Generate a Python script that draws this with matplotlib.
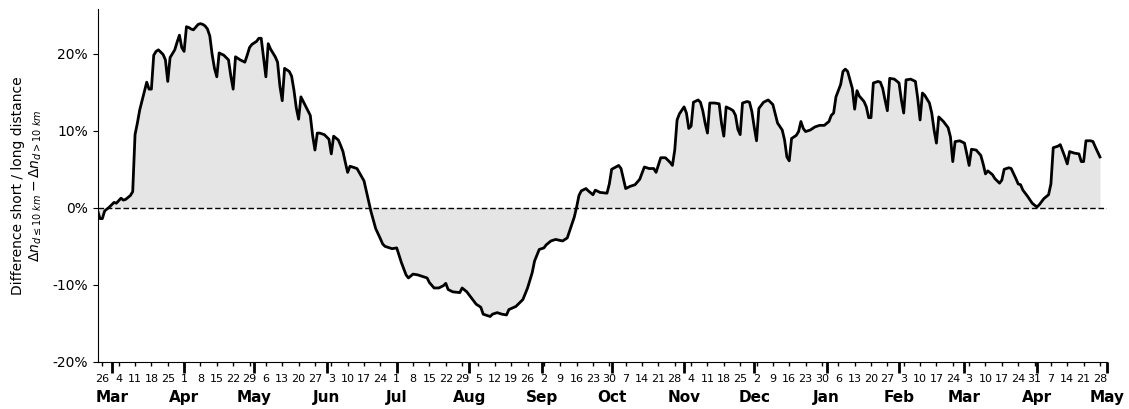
import matplotlib
matplotlib.use("Agg")
import matplotlib.pyplot as plt
import matplotlib.dates as mdates
import matplotlib.ticker as mticker
import pandas as pd
import numpy as np

start_date = "2020-02-24"
end_date = "2021-05-01"

# day offsets from start_date and value (difference in %)
day_offsets = [
    0, 1, 2, 3, 5, 7, 8, 10, 11, 12, 14, 15, 16, 17, 18, 21, 22, 23, 24, 25,
    26, 27, 28, 29, 30, 31, 32, 33, 34, 35, 36, 37, 38, 39, 40, 41, 43, 44, 45, 46,
    47, 48, 49, 50, 51, 52, 54, 56, 57, 58, 59, 61, 63, 64, 65, 66, 68, 69, 70, 71,
    72, 73, 74, 76, 77, 78, 79, 80, 82, 83, 84, 85, 86, 87, 88, 89, 91, 92, 93, 94,
    95, 97, 99, 100, 101, 103, 104, 105, 106, 107, 108, 109, 111, 114, 116, 117, 119, 121, 122, 123,
    124, 126, 128, 130, 132, 133, 135, 137, 141, 142, 144, 146, 148, 149, 150, 152, 155, 156, 158, 160,
    162, 164, 165, 168, 169, 171, 173, 175, 176, 179, 181, 182, 184, 186, 187, 189, 191, 192, 194, 196,
    199, 201, 202, 204, 205, 206, 207, 209, 210, 212, 213, 215, 218, 219, 220, 223, 224, 226, 228, 230,
    232, 234, 236, 238, 239, 241, 243, 245, 246, 247, 248, 249, 251, 252, 253, 254, 255, 257, 258, 259,
    260, 261, 262, 264, 266, 267, 268, 269, 271, 272, 273, 274, 275, 276, 278, 279, 280, 281, 282, 283,
    285, 287, 289, 291, 293, 294, 295, 296, 297, 299, 300, 301, 302, 303, 305, 307, 309, 311, 313, 314,
    315, 316, 318, 319, 320, 321, 323, 324, 325, 326, 328, 329, 330, 331, 332, 334, 335, 336, 337, 338,
    339, 341, 343, 344, 345, 346, 348, 350, 351, 352, 353, 354, 356, 357, 358, 359, 360, 362, 364, 365,
    366, 367, 369, 371, 372, 373, 374, 376, 378, 379, 380, 381, 383, 384, 386, 387, 388, 390, 391, 393,
    394, 395, 396, 398, 400, 402, 403, 405, 407, 408, 409, 411, 412, 414, 415, 416, 418, 420, 421, 422,
    423, 425, 426, 427, 429,
]

diff_pct = [
    -0.4, -1.4, -1.4, -0.4, 0.1, 0.7, 0.6, 1.25, 1.0, 1.1, 1.6, 2.1, 9.5, 11.0, 12.7, 16.3, 15.4, 15.4, 19.8, 20.3,
    20.5, 20.2, 19.9, 19.2, 16.4, 19.5, 20.0, 20.5, 21.5, 22.4, 20.8, 20.3, 23.5, 23.4, 23.2, 23.1, 23.8, 23.9, 23.8, 23.6,
    23.2, 22.3, 19.9, 18.1, 17.0, 20.1, 19.8, 19.2, 17.1, 15.4, 19.6, 19.2, 18.9, 19.8, 20.8, 21.2, 21.6, 22.0, 22.0, 19.5,
    17.0, 21.3, 20.6, 19.6, 18.9, 15.8, 13.9, 18.1, 17.7, 17.1, 15.3, 13.0, 11.5, 14.4, 13.8, 13.2, 12.0, 9.4, 7.5, 9.7,
    9.7, 9.5, 8.9, 7.0, 9.3, 8.8, 8.1, 7.3, 5.9, 4.6, 5.4, 5.3, 5.1, 3.5, 0.8, -0.5, -2.7, -4.0, -4.7, -5.0,
    -5.1, -5.3, -5.2, -7.1, -8.7, -9.1, -8.6, -8.7, -9.1, -9.7, -10.4, -10.4, -10.1, -9.8, -10.6, -10.9, -11.0, -10.4, -10.9, -11.7,
    -12.5, -12.9, -13.8, -14.1, -13.8, -13.6, -13.8, -13.9, -13.2, -12.8, -12.2, -11.9, -10.4, -8.4, -6.9, -5.4, -5.2, -4.8, -4.3, -4.1,
    -4.3, -3.9, -3.0, -1.2, 0.1, 1.6, 2.2, 2.5, 2.2, 1.7, 2.3, 2.0, 1.9, 3.1, 5.0, 5.5, 5.1, 2.5, 2.8, 3.0,
    3.7, 5.3, 5.1, 5.1, 4.6, 6.5, 6.5, 5.9, 5.5, 7.5, 11.4, 12.2, 13.1, 12.3, 10.3, 10.6, 13.7, 14.0, 13.7, 12.6,
    11.0, 9.7, 13.6, 13.6, 13.5, 11.0, 9.3, 13.1, 12.8, 12.6, 12.0, 10.2, 9.5, 13.6, 13.8, 13.7, 12.5, 10.5, 8.7, 12.9,
    13.7, 14.0, 13.4, 11.0, 10.1, 8.8, 6.6, 6.1, 9.0, 9.4, 9.9, 11.2, 10.3, 9.9, 10.1, 10.5, 10.7, 10.7, 11.2, 12.0,
    12.3, 14.4, 16.0, 17.7, 18.0, 17.7, 15.5, 12.8, 15.2, 14.5, 13.8, 13.1, 11.7, 11.7, 16.2, 16.4, 16.3, 15.5, 14.0, 12.6,
    16.8, 16.7, 16.2, 14.0, 12.3, 16.6, 16.7, 16.4, 14.2, 11.4, 14.9, 14.6, 13.6, 12.3, 10.1, 8.4, 11.8, 11.2, 10.4, 9.2,
    6.0, 8.6, 8.7, 8.4, 7.0, 5.5, 7.6, 7.5, 6.8, 5.7, 4.4, 4.8, 4.3, 3.8, 3.2, 3.6, 5.0, 5.2, 5.1, 3.8,
    3.1, 3.0, 2.3, 1.5, 0.6, 0.1, 0.4, 1.2, 1.7, 3.1, 7.8, 8.0, 8.2, 6.6, 5.7, 7.3, 7.1, 7.0, 6.0, 6.0,
    8.7, 8.7, 8.6, 7.9, 6.6,
]

y_ticks = [-20, -10, 0, 10, 20]

dates = pd.Timestamp(start_date) + pd.to_timedelta(day_offsets, unit="D")
vals = np.array(diff_pct)

fig = plt.figure(figsize=(11.29, 4.09), dpi=100)
ax = fig.add_axes([0.0865, 0.115, 0.894, 0.863])

ax.fill_between(dates, 0, vals, color="#e5e5e5", linewidth=0)
ax.plot(dates, vals, color="black", linewidth=2.0, solid_joinstyle="round")
ax.axhline(0, color="black", linestyle="--", linewidth=1.0, dashes=(4, 2))

ax.set_xlim(pd.Timestamp(start_date), pd.Timestamp(end_date))
ax.set_ylim(-20, 25.8)
ax.set_yticks(y_ticks)
ax.yaxis.set_major_formatter(mticker.FuncFormatter(lambda v, p: f"{v:.0f}%"))
ax.tick_params(axis="y", labelsize=10)

ax.xaxis.remove_overlapping_locs = False
ax.xaxis.set_major_locator(mdates.MonthLocator())
ax.xaxis.set_major_formatter(mdates.DateFormatter("%b"))
ax.xaxis.set_minor_locator(mdates.WeekdayLocator(byweekday=mdates.WE))
ax.xaxis.set_minor_formatter(mdates.DateFormatter("%-d"))
ax.tick_params(axis="x", which="major", length=8, width=2, pad=12, labelsize=11)
ax.tick_params(axis="x", which="minor", length=3, width=1, pad=6, labelsize=8)
for lab in ax.get_xticklabels(which="major"):
    lab.set_fontweight("bold")

for s in ["top", "right"]:
    ax.spines[s].set_visible(False)

ax.set_ylabel("Difference short / long distance\n"
              r"$\Delta n_{d \leq 10\ km} - \Delta n_{d > 10\ km}$",
              fontsize=10, labelpad=6)

fig.savefig("out.png", dpi=100)
